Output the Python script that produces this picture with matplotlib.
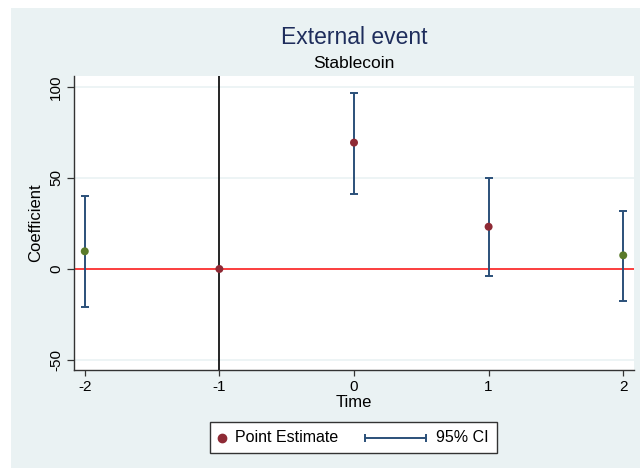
import matplotlib
matplotlib.use("Agg")
import matplotlib.pyplot as plt
from matplotlib.patches import Rectangle
from matplotlib.lines import Line2D

plt.rcParams["font.family"] = ["Liberation Sans", "DejaVu Sans"]

# Data
times = [-2, -1, 0, 1, 2]
estimates = [9.7, 0.0, 69.4, 23.2, 7.5]
ci_low = [-20.9, None, 41.4, -3.8, -17.4]
ci_high = [40.1, None, 96.9, 50.2, 31.9]
point_colors = ["#5A7A2A", "#8E2A35", "#8E2A35", "#8E2A35", "#5A7A2A"]
yticks = [-50, 0, 50, 100]
xticks = [-2, -1, 0, 1, 2]
legend_labels = ["Point Estimate", "95% CI"]

BG = "#EAF2F3"
CI_COLOR = "#2B5079"
W, H = 640, 468
fig = plt.figure(figsize=(W / 100, H / 100), dpi=100)
fig.patch.set_facecolor("white")
fig.patches.append(Rectangle((11 / W, 0), 1 - 11 / W, 1 - 8 / H, transform=fig.transFigure,
                             facecolor=BG, edgecolor="none", zorder=-5))

ax = fig.add_axes([74 / W, 1 - 370 / H, (634 - 74) / W, (370 - 76) / H])
ax.set_zorder(2)
ax.set_facecolor("white")
ax.set_xlim(-2.08, 2.08)
ax.set_ylim(-55.5, 106)

for yt in yticks:
    ax.axhline(yt, color=BG, lw=1.2, zorder=0.5)

ax.axhline(0, color="#FF2020", lw=1.2, zorder=1)
ax.axvline(-1, color="black", lw=1.2, zorder=1)

ci_x = [t for t, lo in zip(times, ci_low) if lo is not None]
lo = [l for l in ci_low if l is not None]
hi = [h for h in ci_high if h is not None]
for x, l, h in zip(ci_x, lo, hi):
    ax.errorbar([x], [(l + h) / 2], yerr=[[(h - l) / 2], [(h - l) / 2]], fmt="none",
                ecolor=CI_COLOR, elinewidth=1.4, capsize=3, capthick=1.4, zorder=2)

ax.scatter(times, estimates, s=33, c=point_colors, zorder=3, edgecolors="none")

ax.set_xticks(xticks)
ax.set_xticklabels([str(t) for t in xticks], fontsize=11)
ax.set_yticks(yticks)
ax.set_yticklabels([str(t) for t in yticks], fontsize=11, rotation=90, va="center")
ax.tick_params(axis="x", length=4, width=0.9, color="#333333", pad=3)
ax.tick_params(axis="y", length=5, width=0.9, color="#333333", pad=3)
for side in ["top", "right"]:
    ax.spines[side].set_visible(False)
for side in ["left", "bottom"]:
    ax.spines[side].set_color("#333333")
    ax.spines[side].set_linewidth(1.0)

ax.set_xlabel("Time", fontsize=12, labelpad=1)
ax.set_ylabel("Coefficient", fontsize=12, labelpad=4)

fig.text(354 / W, 1 - 38 / H, "External event", ha="center", va="center",
         fontsize=16.5, color="#1E2D5C")
fig.text(354 / W, 1 - 63 / H, "Stablecoin", ha="center", va="center",
         fontsize=12.5, color="black")

# Legend drawn as a framed key below the plot
ly = 1 - 437.5 / H
fig.patches.append(Rectangle((210 / W, 1 - 453 / H), (497 - 210) / W, (453 - 422) / H,
                             transform=fig.transFigure, facecolor="white",
                             edgecolor="#333333", lw=1.0, zorder=5))
fig.lines.append(Line2D([222 / W], [ly], transform=fig.transFigure, marker="o",
                        color="#8E2A35", ls="none", markersize=6, zorder=6))
fig.text(235 / W, ly, legend_labels[0], ha="left", va="center", fontsize=11.5, zorder=6)
fig.lines.append(Line2D([365 / W, 426 / W], [ly, ly], transform=fig.transFigure,
                        color=CI_COLOR, lw=1.4, marker="|", markersize=6,
                        markeredgewidth=1.4, zorder=6))
fig.text(436 / W, ly, legend_labels[1], ha="left", va="center", fontsize=11.5, zorder=6)

fig.savefig("out.png", dpi=100, facecolor=fig.get_facecolor())
